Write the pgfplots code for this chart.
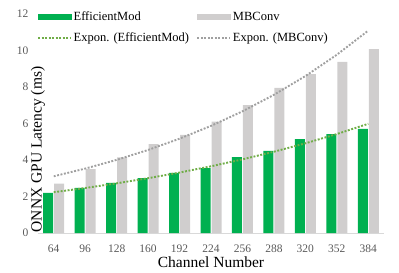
\documentclass[border=0pt]{standalone}
\usepackage{fontspec}
\setmainfont{Liberation Serif}
\usepackage{pgfplots}
\pgfplotsset{compat=1.18}
\definecolor{effgreen}{HTML}{00B050}
\definecolor{mbgray}{HTML}{D0CECE}
\definecolor{trgreen}{HTML}{70AD47}
\definecolor{trgray}{HTML}{A0A0A0}
\definecolor{ticktext}{HTML}{595959}
\definecolor{axisline}{HTML}{D9D9D9}
\begin{document}
\begin{tikzpicture}
\begin{axis}[
  scale only axis, width=346pt, height=219pt,
  xmin=-0.5, xmax=10.5, ymin=0, ymax=12,
  axis lines*=left,
  x axis line style={draw=axisline, line width=0.8pt},
  y axis line style={draw=none},
  xtick={0,...,10},
  xticklabels={64,96,128,160,192,224,256,288,320,352,384},
  ytick={0,2,...,12},
  major tick length=0pt,
  /pgf/number format/assume math mode=true,
  tick label style={font=\fontsize{11.5}{13}\selectfont, text=ticktext},
  xticklabel style={yshift=-8.5pt},
  yticklabel style={xshift=-6pt},
  xlabel={Channel Number},
  ylabel={ONNX GPU Latency (ms)},
  label style={font=\fontsize{15.5}{17}\selectfont},
  xlabel style={at={(axis description cs:0.5,0)}, anchor=center, yshift=-29pt},
  ylabel style={at={(axis description cs:0,0.5)}, anchor=center, xshift=-26pt},
  clip=false,
  legend columns=2,
  legend cell align=left,
  legend style={at={(rel axis cs:0,1)}, anchor=north west, xshift=-4pt, yshift=9.3pt,
    draw=none, fill=none, font=\fontsize{12.5}{14}\selectfont,
    nodes={inner xsep=1.5pt, inner ysep=5.2pt},
    /tikz/every even column/.append style={column sep=6pt}},
]
\addplot[ybar, bar width=10pt, bar shift=-5.5pt, fill=effgreen, draw=none,
  legend image code/.code={\fill[effgreen] (0pt,-3pt) rectangle (34pt,3pt);}]
  coordinates {(0,2.20) (1,2.47) (2,2.74) (3,3.00) (4,3.30) (5,3.56) (6,4.16) (7,4.50) (8,5.15) (9,5.42) (10,5.70)};
\addlegendentry{EfficientMod}
\addplot[ybar, bar width=10pt, bar shift=5.5pt, fill=mbgray, draw=none,
  legend image code/.code={\fill[mbgray] (0pt,-3pt) rectangle (34pt,3pt);}]
  coordinates {(0,2.70) (1,3.50) (2,4.15) (3,4.87) (4,5.37) (5,6.10) (6,7.00) (7,7.95) (8,8.70) (9,9.37) (10,10.08)};
\addlegendentry{MBConv}
\addplot[trgreen, line width=1.9pt, dash pattern=on 1.9pt off 1.6pt,
  legend image code/.code={\draw[trgreen, line width=1.9pt, dash pattern=on 1.9pt off 1.6pt] (0pt,0pt) -- (32pt,0pt);}]
  coordinates {(0,2.234) (1,2.466) (2,2.721) (3,3.003) (4,3.313) (5,3.656) (6,4.035) (7,4.453) (8,4.914) (9,5.423) (10,5.985)};
\addlegendentry{Expon. (EfficientMod)}
\addplot[trgray, line width=1.9pt, dash pattern=on 1.9pt off 1.6pt,
  legend image code/.code={\draw[trgray, line width=1.9pt, dash pattern=on 1.9pt off 1.6pt] (0pt,0pt) -- (32pt,0pt);}]
  coordinates {(0,3.107) (1,3.529) (2,4.007) (3,4.551) (4,5.169) (5,5.870) (6,6.667) (7,7.571) (8,8.599) (9,9.766) (10,11.091)};
\addlegendentry{Expon. (MBConv)}
\end{axis}
\pgfresetboundingbox
\path (current axis.south west) ++(-38pt,-40pt) rectangle ++(399pt,273pt);
\end{tikzpicture}
\end{document}
